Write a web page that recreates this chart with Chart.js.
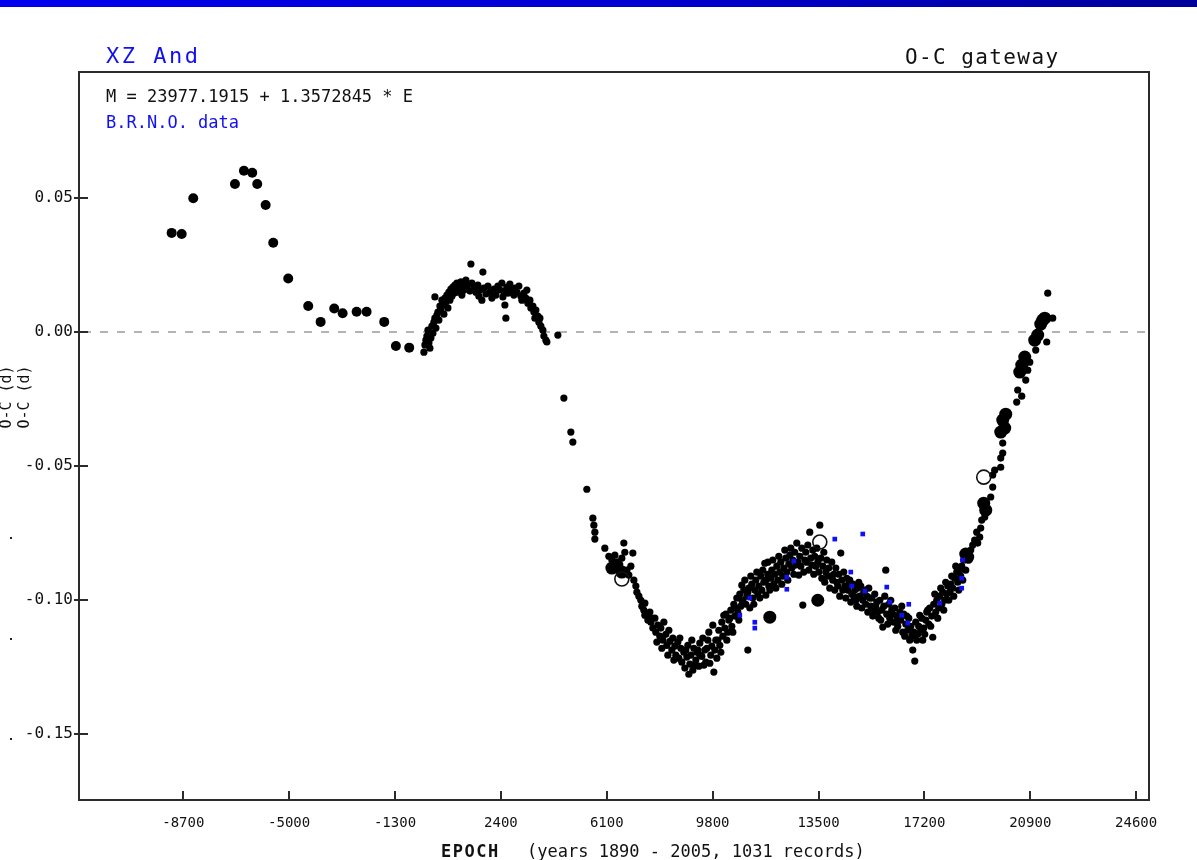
<!DOCTYPE html>
<html>
<head>
<meta charset="utf-8">
<script src="https://cdn.jsdelivr.net/npm/chart.js@4.4.0/dist/chart.umd.min.js"></script>
<style>
  html, body { margin: 0; padding: 0; background: #fff; }
  #wrap { position: absolute; left: 0; top: 0; width: 1197px; height: 860px; }
  #bar { position: absolute; left: 0; top: 0; width: 1197px; height: 7px;
         background: linear-gradient(to right, #0000ee, #0000d0 55%, #00009a); }
</style>
</head>
<body>
<div id="wrap"><canvas id="oc" width="1197" height="860"></canvas></div>
<div id="bar"></div>
<script>
// XZ And - O-C diagram, ephemeris M = 23977.1915 + 1.3572845 * E
// Each entry: [epoch E, O-C in days]

const xTicks = [-8700, -5000, -1300, 2400, 6100, 9800, 13500, 17200, 20900, 24600];
const yTicks = [-0.15, -0.10, -0.05, 0.00, 0.05];

// early visual minima (large markers)
const earlyTimings = [[-9106,0.0370],[-8756,0.0366],[-8351,0.0499],[-6894,0.0552],[-6580,0.0602],[-6290,0.0594],
  [-6115,0.0552],[-5821,0.0474],[-5556,0.0333],[-5032,0.0200],[-4333,0.0097],[-3900,0.0038],[-3425,0.0088],
  [-3131,0.0070],[-2642,0.0076],[-2293,0.0076],[-1677,0.0038],[-1269,-0.0052],[-804,-0.0058]];

// visual / photographic minima, grouped by era
const bumpTimings = [[-290,-0.0075],[-255,-0.0048],[-220,-0.0030],[-185,-0.0015],[-150,0.0007],[-115,-0.0041],
  [-81,-0.0060],[-46,-0.0022],[-11,0.0022],[24,-0.0004],[59,0.0037],[94,0.0052],[94,0.0131],[129,0.0015],[164,0.0063],
  [199,0.0075],[234,0.0045],[269,0.0097],[304,0.0082],[339,0.0119],[373,0.0101],[408,0.0067],[443,0.0127],[478,0.0112],
  [513,0.0138],[548,0.0090],[583,0.0149],[618,0.0119],[653,0.0160],[688,0.0134],[723,0.0168],[758,0.0145],[793,0.0175],
  [828,0.0157],[863,0.0183],[898,0.0149],[933,0.0172],[967,0.0164],[1002,0.0187],[1037,0.0138],[1072,0.0179],
  [1107,0.0157],[1142,0.0172],[1177,0.0194],[1212,0.0164],[1247,0.0179],[1317,0.0153],[1352,0.0254],[1387,0.0183],
  [1456,0.0168],[1526,0.0149],[1596,0.0175],[1631,0.0134],[1666,0.0157],[1736,0.0119],[1771,0.0224],[1806,0.0164],
  [1876,0.0142],[1946,0.0172],[2016,0.0149],[2085,0.0127],[2155,0.0160],[2225,0.0138],[2295,0.0172],[2365,0.0157],
  [2435,0.0183],[2470,0.0131],[2505,0.0153],[2540,0.0101],[2575,0.0052],[2610,0.0168],[2644,0.0145],[2714,0.0179],
  [2784,0.0157],[2854,0.0138],[2889,0.0164],[2959,0.0149],[3029,0.0172],[3099,0.0134],[3134,0.0119],[3203,0.0145],
  [3273,0.0127],[3308,0.0157],[3343,0.0108],[3413,0.0119],[3448,0.0090],[3518,0.0097],[3553,0.0075],[3588,0.0052],
  [3623,0.0082],[3693,0.0060],[3728,0.0037],[3763,0.0052],[3798,0.0022],[3867,0.0007],[3902,-0.0015],[3972,-0.0030],
  [4007,-0.0037],[4391,-0.0011]];

const declineTimings = [[4601,-0.0246],[4845,-0.0373],[4915,-0.0410],[5404,-0.0586],[5614,-0.0694],[5649,-0.0720],
  [5684,-0.0746],[5684,-0.0772],[6033,-0.0806],[6173,-0.0836],[6278,-0.0850],[6383,-0.0832],[6488,-0.0858],[6627,-0.0843],
  [6697,-0.0787],[6732,-0.0821],[6802,-0.0888],[6872,-0.0906],[6942,-0.0873],[7012,-0.0824],[7047,-0.0925],[7117,-0.0947],
  [7152,-0.0970],[7222,-0.0985],[7291,-0.1000],[7326,-0.1022],[7396,-0.1037],[7431,-0.1011],[7431,-0.1056],[7501,-0.1052],
  [7536,-0.1074],[7606,-0.1044],[7641,-0.1082],[7676,-0.1067],[7711,-0.1104],[7781,-0.1067],[7815,-0.1119],[7850,-0.1156],
  [7885,-0.1093],[7955,-0.1134],[7990,-0.1104],[8025,-0.1179],[8060,-0.1149],[8095,-0.1082],[8165,-0.1127],[8200,-0.1168],
  [8235,-0.1205],[8270,-0.1112],[8305,-0.1153],[8374,-0.1186],[8409,-0.1141],[8444,-0.1223],[8479,-0.1171],[8514,-0.1205],
  [8584,-0.1156],[8619,-0.1216],[8654,-0.1141],[8689,-0.1179],[8724,-0.1231],[8794,-0.1194],[8829,-0.1253],[8863,-0.1186],
  [8898,-0.1212],[8933,-0.1168],[8968,-0.1276],[9003,-0.1238],[9038,-0.1205],[9073,-0.1149],[9108,-0.1261],[9143,-0.1179],
  [9178,-0.1242],[9213,-0.1223],[9248,-0.1194],[9283,-0.1186],[9318,-0.1246],[9353,-0.1160],[9353,-0.1205],[9423,-0.1209],
  [9457,-0.1141],[9492,-0.1242],[9527,-0.1186],[9562,-0.1231],[9597,-0.1179],[9632,-0.1149],[9667,-0.1119],[9702,-0.1235],
  [9737,-0.1205],[9772,-0.1171],[9807,-0.1093],[9842,-0.1268],[9877,-0.1186],[9912,-0.1149],[9947,-0.1216],[9982,-0.1149],
  [10016,-0.1112],[10051,-0.1168],[10086,-0.1194],[10121,-0.1082],[10156,-0.1134],[10191,-0.1056],[10226,-0.1104],
  [10261,-0.1052],[10296,-0.1149],[10331,-0.1119],[10366,-0.1074],[10401,-0.1067],[10436,-0.1037],[10471,-0.1097],
  [10505,-0.1119],[10540,-0.1015],[10575,-0.1059],[10610,-0.1029],[10645,-0.0992],[10680,-0.1044],[10715,-0.1074]];

const humpTimings = [[10750,-0.0977],[10785,-0.1022],[10820,-0.0944],[10820,-0.1000],[10855,-0.1000],[10890,-0.0962],
  [10925,-0.0925],[10960,-0.1015],[10995,-0.0985],[11030,-0.1186],[11030,-0.0970],[11064,-0.0955],[11099,-0.1029],
  [11134,-0.0910],[11169,-0.0940],[11204,-0.0992],[11239,-0.1015],[11274,-0.0962],[11309,-0.0925],[11344,-0.0895],
  [11379,-0.0977],[11414,-0.0947],[11449,-0.0992],[11484,-0.0910],[11519,-0.0962],[11553,-0.0888],[11588,-0.0933],
  [11623,-0.0862],[11658,-0.0981],[11658,-0.0925],[11728,-0.0903],[11728,-0.0858],[11763,-0.0947],[11798,-0.0962],
  [11833,-0.0918],[11868,-0.0888],[11903,-0.0850],[11938,-0.0940],[11973,-0.0903],[12008,-0.0955],[12043,-0.0873],
  [12078,-0.0925],[12113,-0.0836],[12147,-0.0895],[12182,-0.0858],[12217,-0.0940],[12252,-0.0910],[12287,-0.0880],
  [12322,-0.0813],[12357,-0.0843],[12392,-0.0895],[12427,-0.0925],[12462,-0.0865],[12497,-0.0832],[12532,-0.0806],
  [12567,-0.0880],[12602,-0.0850],[12637,-0.0903],[12671,-0.0821],[12706,-0.0869],[12741,-0.0787],[12776,-0.0858],
  [12811,-0.0906],[12846,-0.0836],[12881,-0.0873],[12916,-0.0806],[12951,-0.1018],[12986,-0.0895],[13021,-0.0850],
  [13056,-0.0821],[13091,-0.0858],[13126,-0.0794],[13161,-0.0888],[13195,-0.0746],[13230,-0.0843],[13265,-0.0869],
  [13300,-0.0813],[13335,-0.0903],[13370,-0.0836],[13405,-0.0873],[13440,-0.0806],[13475,-0.0858],[13510,-0.0895],
  [13545,-0.0720],[13580,-0.0843],[13615,-0.0918],[13650,-0.0873],[13685,-0.0821],[13719,-0.0933],[13754,-0.0895],
  [13789,-0.0850],[13824,-0.0910],[13859,-0.0880],[13894,-0.0955],[13929,-0.0910],[13964,-0.0858],[13999,-0.0925],
  [14034,-0.0903],[14069,-0.0962],[14104,-0.0880],[14139,-0.0933],[14174,-0.0947],[14209,-0.0903],[14243,-0.0985],
  [14278,-0.0824],[14313,-0.0925],[14348,-0.0962],[14383,-0.0895],[14418,-0.0947],[14453,-0.0992],[14488,-0.0918],
  [14523,-0.0962],[14558,-0.0940],[14593,-0.0925],[14628,-0.1007],[14663,-0.0977],[14698,-0.0940],[14733,-0.0985],
  [14768,-0.0962],[14802,-0.1000],[14838,-0.1022],[14872,-0.0955],[14907,-0.0933],[14942,-0.0985],[14977,-0.0947],
  [15012,-0.1029],[15047,-0.1000],[15082,-0.0970],[15117,-0.0962],[15152,-0.1015],[15187,-0.0985],[15222,-0.1044],
  [15257,-0.0955],[15292,-0.0992],[15326,-0.1022],[15361,-0.0992],[15396,-0.1059],[15431,-0.1037],[15466,-0.0977],
  [15501,-0.1022],[15536,-0.1007],[15571,-0.1044],[15606,-0.1067],[15641,-0.1000],[15676,-0.1074],[15711,-0.1037],
  [15746,-0.1100],[15781,-0.1022],[15816,-0.0985],[15850,-0.0888],[15885,-0.1052],[15920,-0.1089],[15955,-0.1015],
  [15990,-0.1067],[16025,-0.1000],[16060,-0.1037],[16095,-0.1052],[16130,-0.1082],[16165,-0.1029],[16200,-0.1112],
  [16235,-0.1059],[16270,-0.1097],[16305,-0.1074],[16340,-0.1044],[16374,-0.1074],[16409,-0.1022],[16444,-0.1119],
  [16479,-0.1052],[16514,-0.1134],[16549,-0.1089],[16584,-0.1059],[16619,-0.1112],[16654,-0.1067],[16689,-0.1149],
  [16724,-0.1097],[16759,-0.1134],[16794,-0.1186],[16829,-0.1119],[16864,-0.1227],[16898,-0.1082],[16933,-0.1149],
  [16968,-0.1127],[17003,-0.1097],[17038,-0.1056],[17073,-0.1112],[17108,-0.1067],[17143,-0.1149],[17178,-0.1104],
  [17213,-0.1127],[17248,-0.1074],[17283,-0.1044],[17318,-0.1037],[17353,-0.1089],[17387,-0.1029],[17422,-0.1097],
  [17457,-0.1059],[17492,-0.1138],[17527,-0.1015],[17562,-0.0977],[17597,-0.1044],[17632,-0.1000],[17667,-0.1067],
  [17702,-0.1029],[17737,-0.0985],[17772,-0.0955],[17807,-0.1015],[17842,-0.0970],[17876,-0.1037],[17911,-0.1000],
  [17946,-0.0933],[17981,-0.0977],[18016,-0.0947],[18051,-0.1000],[18086,-0.0970],[18121,-0.0940],[18156,-0.0910],
  [18191,-0.0955],[18226,-0.0985],[18261,-0.0918],[18296,-0.0873],[18331,-0.0895],[18366,-0.0933],[18401,-0.0962],
  [18435,-0.0888],[18470,-0.0910],[18505,-0.0873],[18540,-0.0925],[18575,-0.0850],[18610,-0.0821],[18645,-0.0888]];

const riseTimings = [[18680,-0.0836],[18750,-0.0850],[18820,-0.0813],[18890,-0.0794],[18959,-0.0776],[19029,-0.0746],
  [19064,-0.0787],[19134,-0.0765],[19169,-0.0731],[19204,-0.0701],[19309,-0.0690],[19379,-0.0664],[19519,-0.0615],
  [19588,-0.0578],[19588,-0.0533],[19658,-0.0515],[19868,-0.0504],[19938,-0.0451],[19868,-0.0470],[19938,-0.0414],
  [20427,-0.0261],[20462,-0.0216],[20602,-0.0239],[20742,-0.0179],[20812,-0.0142],[20882,-0.0112],[21091,-0.0067],
  [21476,-0.0037],[21685,0.0052],[21511,0.0145]];

// photoelectric / CCD minima (large filled dots)
const photoTimings = [[6278,-0.0880],[6453,-0.0869],[6627,-0.0895],[11798,-0.1063],[13475,-0.1000],[18645,-0.0828],
  [18715,-0.0839],[19274,-0.0638],[19344,-0.0664],[19868,-0.0373],[19938,-0.0328],[20008,-0.0358],[20043,-0.0306],
  [20533,-0.0149],[20602,-0.0123],[20707,-0.0093],[21056,-0.0030],[21161,-0.0011],[21266,0.0030],[21336,0.0045],
  [21406,0.0052]];

// minima drawn as open circles
const openTimings = [[6627,-0.0921],[19274,-0.0541],[13545,-0.0783]];

// B.R.N.O. observers
const brnoTimings = [[10750,-0.1056],[11099,-0.0992],[11274,-0.1082],[11274,-0.1104],[12392,-0.0914],[12392,-0.0959],
  [12637,-0.0854],[14069,-0.0772],[15047,-0.0753],[14628,-0.0895],[14663,-0.0947],[15117,-0.0966],[15885,-0.0951],
  [15990,-0.1007],[16409,-0.1056],[16654,-0.1015],[16619,-0.1085],[17737,-0.1011],[18505,-0.0918],[18505,-0.0955],
  [18540,-0.0850]];

const toXY = arr => arr.map(p => ({ x: p[0], y: p[1] }));
const MONO = '"DejaVu Sans Mono", "Liberation Mono", monospace';
const BLUE = '#1010f0';

function dots(data, radius, order) {
  return { data: toXY(data), backgroundColor: '#000', borderWidth: 0,
           pointRadius: radius, pointHoverRadius: radius, pointStyle: 'circle', order };
}

// frame, ticks, reference line and captions
const decor = {
  id: 'decor',
  beforeDraw(chart) {
    const c = chart.ctx;
    c.save(); c.fillStyle = '#fff'; c.fillRect(0, 0, chart.width, chart.height); c.restore();
  },
  beforeDatasetsDraw(chart) {
    const c = chart.ctx, a = chart.chartArea, y0 = chart.scales.y.getPixelForValue(0);
    c.save();
    c.strokeStyle = '#b4b4b4'; c.lineWidth = 2; c.setLineDash([8, 9]);
    c.beginPath(); c.moveTo(a.left + 4, y0); c.lineTo(a.right, y0); c.stroke();
    c.restore();
  },
  afterDraw(chart) {
    const c = chart.ctx, a = chart.chartArea, xs = chart.scales.x, ys = chart.scales.y;
    c.save();
    c.strokeStyle = '#2b2b2b'; c.lineWidth = 2;
    c.strokeRect(a.left, a.top, a.right - a.left, a.bottom - a.top);
    c.lineWidth = 2;
    c.beginPath();
    xTicks.forEach(v => { const px = Math.round(xs.getPixelForValue(v)); c.moveTo(px, a.bottom); c.lineTo(px, a.bottom - 9); });
    yTicks.forEach(v => { const py = Math.round(ys.getPixelForValue(v)); c.moveTo(a.left - 5, py); c.lineTo(a.left + 9, py); });
    c.stroke();

    c.textBaseline = 'alphabetic'; c.textAlign = 'left';
    c.fillStyle = BLUE; c.font = '22px ' + MONO; c.letterSpacing = '2.5px';
    c.fillText('XZ And', 106, 63);
    c.fillStyle = '#111'; c.font = '21px ' + MONO; c.letterSpacing = '1.4px';
    c.fillText('O-C gateway', 905, 64);
    c.font = '17px ' + MONO; c.letterSpacing = '0px';
    c.fillText('M = 23977.1915 + 1.3572845 * E', 106, 102);
    c.fillStyle = BLUE;
    c.fillText('B.R.N.O. data', 106, 128);
    c.fillStyle = '#111';
    c.font = 'bold 17px ' + MONO; c.letterSpacing = '1.5px';
    c.fillText('EPOCH', 441, 857);
    c.font = '17px ' + MONO; c.letterSpacing = '0px';
    c.fillText('(years 1890 - 2005, 1031 records)', 527, 857);

    c.font = '15px ' + MONO; c.textAlign = 'center'; c.textBaseline = 'middle';
    [7, 25].forEach(x => {
      c.save(); c.translate(x, 397); c.rotate(-Math.PI / 2); c.fillText('O-C (d)', 0, 0); c.restore();
    });
    c.fillStyle = '#222';
    [537, 638, 738].forEach(y => c.fillRect(10, y, 2, 2));
    c.restore();
  }
};

new Chart(document.getElementById('oc'), {
  type: 'scatter',
  data: {
    datasets: [
      { data: toXY(brnoTimings), backgroundColor: BLUE, borderWidth: 0, pointStyle: 'rect',
        pointRadius: 3.3, pointHoverRadius: 3.3, order: 0 },
      { data: toXY(openTimings), backgroundColor: 'rgba(0,0,0,0)', borderColor: '#111', borderWidth: 1.6,
        pointStyle: 'circle', pointRadius: 7, pointHoverRadius: 7, order: 1 },
      dots(photoTimings, 6.5, 2),
      dots(bumpTimings, 3.6, 3),
      dots(declineTimings, 3.6, 3),
      dots(humpTimings, 3.6, 3),
      dots(riseTimings, 3.6, 3),
      dots(earlyTimings, 5, 4)
    ]
  },
  options: {
    responsive: false,
    animation: false,
    devicePixelRatio: 1,
    layout: { padding: { left: 0, top: 72, right: 48, bottom: 0 } },
    plugins: { legend: { display: false }, tooltip: { enabled: false }, title: { display: false } },
    scales: {
      x: {
        type: 'linear', min: -12344, max: 25050,
        afterBuildTicks: s => { s.ticks = xTicks.map(v => ({ value: v })); },
        afterFit: s => { s.height = 60; },
        grid: { display: false, drawTicks: false }, border: { display: false },
        ticks: { font: { family: MONO, size: 14 }, color: '#111', padding: 15,
                 maxRotation: 0, autoSkip: false, callback: v => String(v) }
      },
      y: {
        type: 'linear', min: -0.1745, max: 0.0970,
        afterBuildTicks: s => { s.ticks = yTicks.map(v => ({ value: v })); },
        afterFit: s => { s.width = 79; },
        grid: { display: false, drawTicks: false }, border: { display: false },
        ticks: { font: { family: MONO, size: 16 }, color: '#111', padding: 6,
                 autoSkip: false, callback: v => v.toFixed(2) }
      }
    }
  },
  plugins: [decor]
});
</script>
</body>
</html>
